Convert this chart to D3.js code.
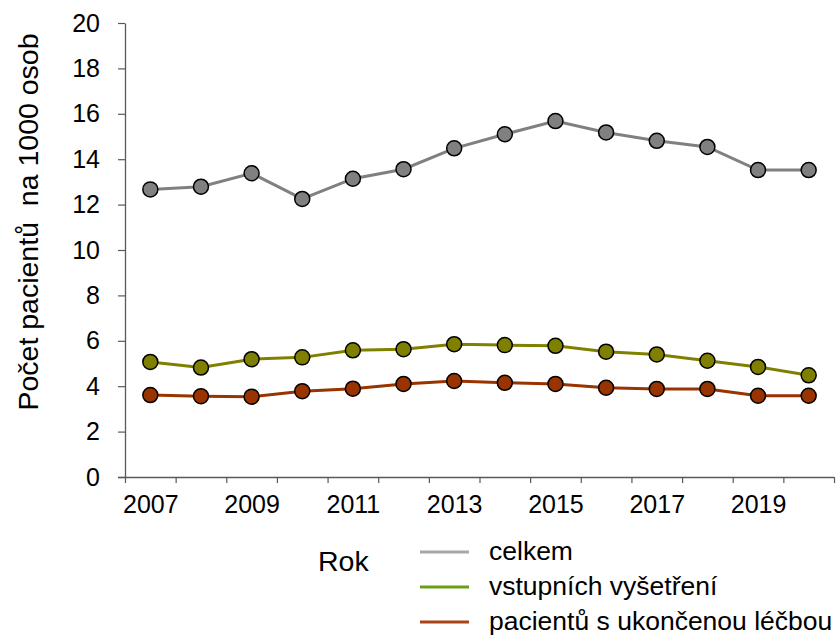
<!DOCTYPE html>
<html lang="en">
<head>
  <meta charset="utf-8">
  <title>Počet pacientů na 1000 osob</title>
  <script src="https://cdn.jsdelivr.net/npm/d3@7"></script>
  <style>
    body { margin: 0; background: #fff; }
    text { font-family: "Liberation Sans", Arial, sans-serif; fill: #000; }
  </style>
</head>
<body>
  <svg class="chart" width="836" height="638"></svg>
  <script>
    var years = [2007, 2008, 2009, 2010, 2011, 2012, 2013, 2014, 2015, 2016, 2017, 2018, 2019, 2020];
    var yearLabels = [2007, 2009, 2011, 2013, 2015, 2017, 2019];
    var yTicks = [0, 2, 4, 6, 8, 10, 12, 14, 16, 18, 20];

    var celkem = [12.67, 12.79, 13.38, 12.25, 13.14, 13.56, 14.48, 15.10, 15.68, 15.18, 14.81, 14.54, 13.52, 13.52];
    var vstupni = [5.07, 4.82, 5.19, 5.27, 5.58, 5.63, 5.85, 5.81, 5.78, 5.52, 5.40, 5.12, 4.85, 4.48];
    var ukoncene = [3.61, 3.56, 3.54, 3.78, 3.89, 4.10, 4.23, 4.15, 4.10, 3.93, 3.88, 3.88, 3.58, 3.58];

    var seriesNames = ["celkem", "vstupních vyšetření", "pacientů s ukončenou léčbou"];

    var series = [
      { name: seriesNames[0], values: celkem, color: "#808080", legend: "#a6a6a6" },
      { name: seriesNames[1], values: vstupni, color: "#808000", legend: "#6a9e1a" },
      { name: seriesNames[2], values: ukoncene, color: "#993300", legend: "#a84418" }
    ];

    var plotLeft = 125, plotRight = 834, plotTop = 23, plotBottom = 477;

    var x = d3.scaleLinear()
              .domain([years[0] - 0.5, years[years.length - 1] + 0.5])
              .range([plotLeft, plotRight]);

    var y = d3.scaleLinear()
              .domain([0, 20])
              .range([plotBottom, plotTop]);

    var svg = d3.select("svg.chart");

    // x axis: ticks between the years, labels on odd years
    var boundaries = years.map(function(d) { return d - 0.5; }).concat([years[years.length - 1] + 0.5]);
    var gx = svg.append("g")
                .attr("transform", "translate(0," + plotBottom + ")")
                .call(d3.axisBottom(x).tickValues(boundaries).tickFormat("").tickSize(6).tickSizeOuter(0));
    gx.select(".domain").attr("d", "M" + (plotLeft - 7) + ",0.5H" + plotRight);
    gx.selectAll("line").attr("stroke", "#595959").attr("stroke-width", 1.2);
    gx.select(".domain").attr("stroke", "#595959").attr("stroke-width", 1.3);

    var gxl = svg.append("g")
                 .attr("transform", "translate(0," + plotBottom + ")")
                 .call(d3.axisBottom(x).tickValues(yearLabels).tickFormat(d3.format("d")).tickSize(0).tickPadding(18));
    gxl.select(".domain").remove();
    gxl.selectAll("text").style("font-size", "25px");

    var gy = svg.append("g")
                .attr("transform", "translate(" + plotLeft + ",0)")
                .call(d3.axisLeft(y).tickValues(yTicks).tickSize(7).tickPadding(18).tickSizeOuter(0));
    gy.selectAll("line").attr("stroke", "#595959").attr("stroke-width", 1.2);
    gy.select(".domain").attr("stroke", "#595959").attr("stroke-width", 1.3);
    gy.selectAll("text").style("font-size", "25px");
    svg.selectAll("g").attr("font-family", null).attr("font-size", null);

    // y title
    svg.append("text")
       .attr("transform", "translate(38,222) rotate(-90)")
       .attr("text-anchor", "middle")
       .style("font-size", "28.5px")
       .style("white-space", "pre")
       .text("Počet pacientů  na 1000 osob");

    var line = d3.line()
                 .x(function(d, i) { return x(years[i]); })
                 .y(function(d) { return y(d); });

    series.forEach(function(s) {
      svg.append("path")
         .datum(s.values)
         .attr("d", line)
         .attr("fill", "none")
         .attr("stroke", s.color)
         .attr("stroke-width", 3);
    });

    series.forEach(function(s) {
      svg.append("g")
         .selectAll("circle")
         .data(s.values)
         .enter().append("circle")
         .attr("cx", function(d, i) { return x(years[i]); })
         .attr("cy", function(d) { return y(d); })
         .attr("r", 7.5)
         .attr("fill", s.color)
         .attr("stroke", "#000")
         .attr("stroke-width", 1.5);
    });

    // x title and legend
    svg.append("text")
       .attr("x", 318)
       .attr("y", 571)
       .style("font-size", "28.5px")
       .text("Rok");

    var legend = svg.append("g")
                    .selectAll("g")
                    .data(series)
                    .enter().append("g")
                    .attr("transform", function(d, i) { return "translate(420," + (552 + i * 35) + ")"; });
    legend.append("line")
          .attr("x1", 0).attr("x2", 49)
          .attr("stroke", function(d) { return d.legend; })
          .attr("stroke-width", 3);
    legend.append("text")
          .attr("x", 69)
          .attr("dy", "0.3em")
          .style("font-size", "26.5px")
          .text(function(d) { return d.name; });
  </script>
</body>
</html>
